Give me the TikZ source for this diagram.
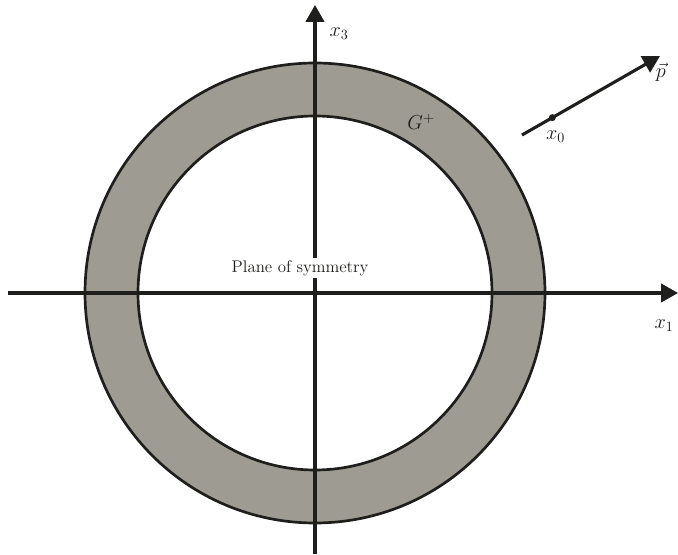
\documentclass[tikz,border=0pt]{standalone}
\usepackage{xcolor}
\usepackage{amsmath}
\usepackage{tikz}
\usetikzlibrary{arrows.meta, positioning, calc}
\definecolor{mydark}{RGB}{30,30,28}
\definecolor{myring}{RGB}{158,156,146}
\tikzset{
  axis/.style={-{Triangle[length=12pt, width=13pt]}, line width=2.2pt, color=mydark},
  ringline/.style={draw=mydark, line width=1.9pt},
  lbl/.style={font=\large, text=mydark, inner sep=1pt},
  mlbl/.style={font=\Large, text=mydark, inner sep=1pt},
  dot/.style={circle, fill=mydark, minimum size=5pt, inner sep=0pt}
}
\begin{document}
\begin{tikzpicture}[x=0.025cm, y=0.025cm]
  \useasboundingbox (0,0) rectangle (678,554);
  \coordinate (O) at (315,261);
  % ring G+
  \fill[myring, even odd rule] (O) circle[radius=230] (O) circle[radius=177];
  \draw[ringline] (O) circle[radius=230];
  \draw[ringline] (O) circle[radius=177];

  % axes
  \coordinate (xl) at (8,261);
  \coordinate (xr) at (678,261);
  \coordinate (zb) at (315,0);
  \coordinate (zt) at (315,549);
  \draw[axis] (xl) -- (xr);
  \draw[axis] (zb) -- (zt);
  \node[mlbl] (xone) at (664,228) {$x_1$};
  \node[mlbl] (xthree) at (339,520) {$x_3$};

  \node[lbl, fill=white, inner sep=2pt] (plane) at (300,286) {Plane of symmetry};
  \node[mlbl] (gplus) at (421,432) {$G^{+}$};

  % direction p through x0
  \coordinate (pstart) at (522,419);
  \coordinate (ptip) at (660,498);
  \draw[axis] (pstart) -- (ptip);
  \node[dot] (xzero) at ($(pstart)!0.22!(ptip)$) {};
  \node[mlbl, below=0.2cm of xzero, xshift=0.08cm] (xzerolbl) {$x_0$};
  \node[mlbl, below=0.14cm of ptip, xshift=0.02cm] (plbl) {$\vec{p}$};
\end{tikzpicture}
\end{document}
